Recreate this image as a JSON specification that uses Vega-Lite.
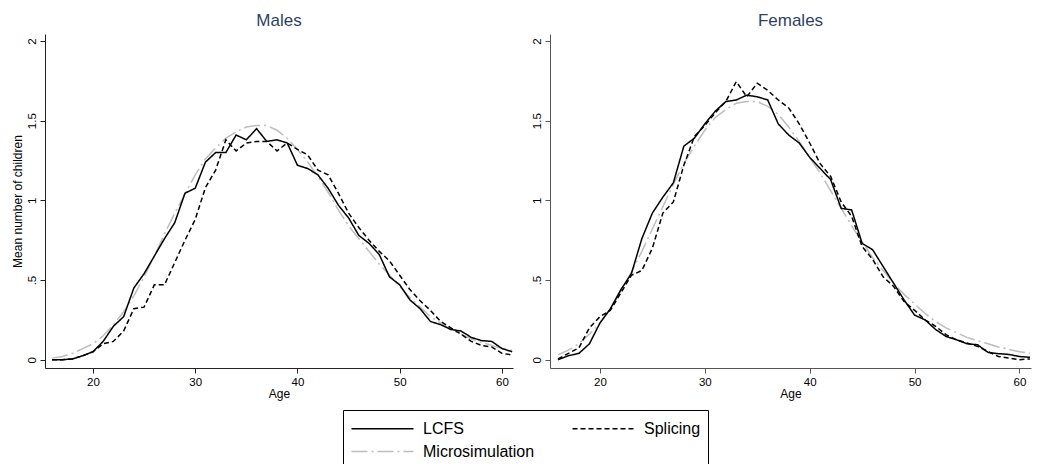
{
"$schema": "https://vega.github.io/schema/vega-lite/v6.json",
"autosize": {"type": "pad"},
"padding": {"left": 11, "top": 12, "right": 0, "bottom": 0},
"background": "white",
"config": {
  "font": "Liberation Sans",
  "view": {"stroke": null},
  "axis": {"grid": false, "labelFont": "Liberation Sans", "labelFontSize": 11.5, "labelColor": "#000", "titleFont": "Liberation Sans", "titleFontWeight": "normal", "titleFontSize": 12, "titleColor": "#000", "domainColor": "#222", "tickColor": "#222", "tickSize": 5, "labelPadding": 3},
  "title": {"font": "Liberation Sans", "fontSize": 17, "fontWeight": "normal", "color": "#2f3f66", "offset": 4},
  "legend": {"labelFont": "Liberation Sans", "labelFontSize": 16, "labelColor": "#000", "symbolType": "M-3,0H3", "symbolSize": 427, "symbolStrokeWidth": 1.5, "symbolOffset": 21, "strokeColor": "#000", "padding": 7, "columns": 2, "direction": "horizontal", "columnPadding": 34, "rowPadding": 3, "labelOffset": 29, "labelLimit": 300}
},
"datasets": {"d": [
{"sex":"Males","series":"Microsimulation","age":16,"value":0.01},{"sex":"Males","series":"Microsimulation","age":17,"value":0.02},{"sex":"Males","series":"Microsimulation","age":18,"value":0.04},{"sex":"Males","series":"Microsimulation","age":19,"value":0.07},{"sex":"Males","series":"Microsimulation","age":20,"value":0.10},{"sex":"Males","series":"Microsimulation","age":21,"value":0.15},{"sex":"Males","series":"Microsimulation","age":22,"value":0.22},{"sex":"Males","series":"Microsimulation","age":23,"value":0.30},{"sex":"Males","series":"Microsimulation","age":24,"value":0.40},{"sex":"Males","series":"Microsimulation","age":25,"value":0.52},{"sex":"Males","series":"Microsimulation","age":26,"value":0.65},{"sex":"Males","series":"Microsimulation","age":27,"value":0.79},{"sex":"Males","series":"Microsimulation","age":28,"value":0.92},{"sex":"Males","series":"Microsimulation","age":29,"value":1.04},{"sex":"Males","series":"Microsimulation","age":30,"value":1.16},{"sex":"Males","series":"Microsimulation","age":31,"value":1.26},{"sex":"Males","series":"Microsimulation","age":32,"value":1.33},{"sex":"Males","series":"Microsimulation","age":33,"value":1.39},{"sex":"Males","series":"Microsimulation","age":34,"value":1.43},{"sex":"Males","series":"Microsimulation","age":35,"value":1.46},{"sex":"Males","series":"Microsimulation","age":36,"value":1.47},{"sex":"Males","series":"Microsimulation","age":37,"value":1.47},{"sex":"Males","series":"Microsimulation","age":38,"value":1.44},{"sex":"Males","series":"Microsimulation","age":39,"value":1.39},{"sex":"Males","series":"Microsimulation","age":40,"value":1.32},{"sex":"Males","series":"Microsimulation","age":41,"value":1.24},{"sex":"Males","series":"Microsimulation","age":42,"value":1.15},{"sex":"Males","series":"Microsimulation","age":43,"value":1.05},{"sex":"Males","series":"Microsimulation","age":44,"value":0.94},{"sex":"Males","series":"Microsimulation","age":45,"value":0.84},{"sex":"Males","series":"Microsimulation","age":46,"value":0.76},{"sex":"Males","series":"Microsimulation","age":47,"value":0.68},{"sex":"Males","series":"Microsimulation","age":48,"value":0.60},{"sex":"Males","series":"Microsimulation","age":49,"value":0.53},{"sex":"Males","series":"Microsimulation","age":50,"value":0.46},{"sex":"Males","series":"Microsimulation","age":51,"value":0.39},{"sex":"Males","series":"Microsimulation","age":52,"value":0.33},{"sex":"Males","series":"Microsimulation","age":53,"value":0.27},{"sex":"Males","series":"Microsimulation","age":54,"value":0.23},{"sex":"Males","series":"Microsimulation","age":55,"value":0.19},{"sex":"Males","series":"Microsimulation","age":56,"value":0.16},{"sex":"Males","series":"Microsimulation","age":57,"value":0.13},{"sex":"Males","series":"Microsimulation","age":58,"value":0.11},{"sex":"Males","series":"Microsimulation","age":59,"value":0.09},{"sex":"Males","series":"Microsimulation","age":60,"value":0.07},{"sex":"Males","series":"Microsimulation","age":61,"value":0.06},
{"sex":"Males","series":"LCFS","age":16,"value":0},{"sex":"Males","series":"LCFS","age":17,"value":0},{"sex":"Males","series":"LCFS","age":18,"value":0.005},{"sex":"Males","series":"LCFS","age":19,"value":0.025},{"sex":"Males","series":"LCFS","age":20,"value":0.05},{"sex":"Males","series":"LCFS","age":21,"value":0.115},{"sex":"Males","series":"LCFS","age":22,"value":0.21},{"sex":"Males","series":"LCFS","age":23,"value":0.27},{"sex":"Males","series":"LCFS","age":24,"value":0.45},{"sex":"Males","series":"LCFS","age":25,"value":0.54},{"sex":"Males","series":"LCFS","age":26,"value":0.65},{"sex":"Males","series":"LCFS","age":27,"value":0.76},{"sex":"Males","series":"LCFS","age":28,"value":0.86},{"sex":"Males","series":"LCFS","age":29,"value":1.045},{"sex":"Males","series":"LCFS","age":30,"value":1.076},{"sex":"Males","series":"LCFS","age":31,"value":1.24},{"sex":"Males","series":"LCFS","age":32,"value":1.30},{"sex":"Males","series":"LCFS","age":33,"value":1.30},{"sex":"Males","series":"LCFS","age":34,"value":1.41},{"sex":"Males","series":"LCFS","age":35,"value":1.38},{"sex":"Males","series":"LCFS","age":36,"value":1.45},{"sex":"Males","series":"LCFS","age":37,"value":1.37},{"sex":"Males","series":"LCFS","age":38,"value":1.38},{"sex":"Males","series":"LCFS","age":39,"value":1.36},{"sex":"Males","series":"LCFS","age":40,"value":1.22},{"sex":"Males","series":"LCFS","age":41,"value":1.20},{"sex":"Males","series":"LCFS","age":42,"value":1.16},{"sex":"Males","series":"LCFS","age":43,"value":1.076},{"sex":"Males","series":"LCFS","age":44,"value":0.97},{"sex":"Males","series":"LCFS","age":45,"value":0.89},{"sex":"Males","series":"LCFS","age":46,"value":0.78},{"sex":"Males","series":"LCFS","age":47,"value":0.73},{"sex":"Males","series":"LCFS","age":48,"value":0.66},{"sex":"Males","series":"LCFS","age":49,"value":0.52},{"sex":"Males","series":"LCFS","age":50,"value":0.47},{"sex":"Males","series":"LCFS","age":51,"value":0.375},{"sex":"Males","series":"LCFS","age":52,"value":0.32},{"sex":"Males","series":"LCFS","age":53,"value":0.24},{"sex":"Males","series":"LCFS","age":54,"value":0.22},{"sex":"Males","series":"LCFS","age":55,"value":0.19},{"sex":"Males","series":"LCFS","age":56,"value":0.18},{"sex":"Males","series":"LCFS","age":57,"value":0.14},{"sex":"Males","series":"LCFS","age":58,"value":0.12},{"sex":"Males","series":"LCFS","age":59,"value":0.115},{"sex":"Males","series":"LCFS","age":60,"value":0.07},{"sex":"Males","series":"LCFS","age":61,"value":0.05},
{"sex":"Males","series":"Splicing","age":16,"value":0},{"sex":"Males","series":"Splicing","age":17,"value":0},{"sex":"Males","series":"Splicing","age":18,"value":0.005},{"sex":"Males","series":"Splicing","age":19,"value":0.025},{"sex":"Males","series":"Splicing","age":20,"value":0.05},{"sex":"Males","series":"Splicing","age":21,"value":0.10},{"sex":"Males","series":"Splicing","age":22,"value":0.115},{"sex":"Males","series":"Splicing","age":23,"value":0.18},{"sex":"Males","series":"Splicing","age":24,"value":0.32},{"sex":"Males","series":"Splicing","age":25,"value":0.33},{"sex":"Males","series":"Splicing","age":26,"value":0.47},{"sex":"Males","series":"Splicing","age":27,"value":0.47},{"sex":"Males","series":"Splicing","age":28,"value":0.61},{"sex":"Males","series":"Splicing","age":29,"value":0.75},{"sex":"Males","series":"Splicing","age":30,"value":0.88},{"sex":"Males","series":"Splicing","age":31,"value":1.08},{"sex":"Males","series":"Splicing","age":32,"value":1.19},{"sex":"Males","series":"Splicing","age":33,"value":1.38},{"sex":"Males","series":"Splicing","age":34,"value":1.31},{"sex":"Males","series":"Splicing","age":35,"value":1.36},{"sex":"Males","series":"Splicing","age":36,"value":1.37},{"sex":"Males","series":"Splicing","age":37,"value":1.37},{"sex":"Males","series":"Splicing","age":38,"value":1.31},{"sex":"Males","series":"Splicing","age":39,"value":1.36},{"sex":"Males","series":"Splicing","age":40,"value":1.32},{"sex":"Males","series":"Splicing","age":41,"value":1.285},{"sex":"Males","series":"Splicing","age":42,"value":1.19},{"sex":"Males","series":"Splicing","age":43,"value":1.16},{"sex":"Males","series":"Splicing","age":44,"value":1.045},{"sex":"Males","series":"Splicing","age":45,"value":0.92},{"sex":"Males","series":"Splicing","age":46,"value":0.83},{"sex":"Males","series":"Splicing","age":47,"value":0.75},{"sex":"Males","series":"Splicing","age":48,"value":0.68},{"sex":"Males","series":"Splicing","age":49,"value":0.62},{"sex":"Males","series":"Splicing","age":50,"value":0.53},{"sex":"Males","series":"Splicing","age":51,"value":0.44},{"sex":"Males","series":"Splicing","age":52,"value":0.37},{"sex":"Males","series":"Splicing","age":53,"value":0.31},{"sex":"Males","series":"Splicing","age":54,"value":0.24},{"sex":"Males","series":"Splicing","age":55,"value":0.20},{"sex":"Males","series":"Splicing","age":56,"value":0.16},{"sex":"Males","series":"Splicing","age":57,"value":0.115},{"sex":"Males","series":"Splicing","age":58,"value":0.09},{"sex":"Males","series":"Splicing","age":59,"value":0.08},{"sex":"Males","series":"Splicing","age":60,"value":0.04},{"sex":"Males","series":"Splicing","age":61,"value":0.03},
{"sex":"Females","series":"Microsimulation","age":16,"value":0.03},{"sex":"Females","series":"Microsimulation","age":17,"value":0.06},{"sex":"Females","series":"Microsimulation","age":18,"value":0.10},{"sex":"Females","series":"Microsimulation","age":19,"value":0.16},{"sex":"Females","series":"Microsimulation","age":20,"value":0.23},{"sex":"Females","series":"Microsimulation","age":21,"value":0.32},{"sex":"Females","series":"Microsimulation","age":22,"value":0.43},{"sex":"Females","series":"Microsimulation","age":23,"value":0.55},{"sex":"Females","series":"Microsimulation","age":24,"value":0.68},{"sex":"Females","series":"Microsimulation","age":25,"value":0.82},{"sex":"Females","series":"Microsimulation","age":26,"value":0.96},{"sex":"Females","series":"Microsimulation","age":27,"value":1.10},{"sex":"Females","series":"Microsimulation","age":28,"value":1.23},{"sex":"Females","series":"Microsimulation","age":29,"value":1.34},{"sex":"Females","series":"Microsimulation","age":30,"value":1.44},{"sex":"Females","series":"Microsimulation","age":31,"value":1.52},{"sex":"Females","series":"Microsimulation","age":32,"value":1.57},{"sex":"Females","series":"Microsimulation","age":33,"value":1.61},{"sex":"Females","series":"Microsimulation","age":34,"value":1.62},{"sex":"Females","series":"Microsimulation","age":35,"value":1.62},{"sex":"Females","series":"Microsimulation","age":36,"value":1.59},{"sex":"Females","series":"Microsimulation","age":37,"value":1.54},{"sex":"Females","series":"Microsimulation","age":38,"value":1.46},{"sex":"Females","series":"Microsimulation","age":39,"value":1.37},{"sex":"Females","series":"Microsimulation","age":40,"value":1.27},{"sex":"Females","series":"Microsimulation","age":41,"value":1.17},{"sex":"Females","series":"Microsimulation","age":42,"value":1.06},{"sex":"Females","series":"Microsimulation","age":43,"value":0.95},{"sex":"Females","series":"Microsimulation","age":44,"value":0.84},{"sex":"Females","series":"Microsimulation","age":45,"value":0.74},{"sex":"Females","series":"Microsimulation","age":46,"value":0.64},{"sex":"Females","series":"Microsimulation","age":47,"value":0.56},{"sex":"Females","series":"Microsimulation","age":48,"value":0.48},{"sex":"Females","series":"Microsimulation","age":49,"value":0.41},{"sex":"Females","series":"Microsimulation","age":50,"value":0.35},{"sex":"Females","series":"Microsimulation","age":51,"value":0.29},{"sex":"Females","series":"Microsimulation","age":52,"value":0.24},{"sex":"Females","series":"Microsimulation","age":53,"value":0.20},{"sex":"Females","series":"Microsimulation","age":54,"value":0.17},{"sex":"Females","series":"Microsimulation","age":55,"value":0.14},{"sex":"Females","series":"Microsimulation","age":56,"value":0.12},{"sex":"Females","series":"Microsimulation","age":57,"value":0.10},{"sex":"Females","series":"Microsimulation","age":58,"value":0.08},{"sex":"Females","series":"Microsimulation","age":59,"value":0.065},{"sex":"Females","series":"Microsimulation","age":60,"value":0.05},{"sex":"Females","series":"Microsimulation","age":61,"value":0.04},
{"sex":"Females","series":"LCFS","age":16,"value":0},{"sex":"Females","series":"LCFS","age":17,"value":0.025},{"sex":"Females","series":"LCFS","age":18,"value":0.04},{"sex":"Females","series":"LCFS","age":19,"value":0.10},{"sex":"Females","series":"LCFS","age":20,"value":0.23},{"sex":"Females","series":"LCFS","age":21,"value":0.32},{"sex":"Females","series":"LCFS","age":22,"value":0.44},{"sex":"Females","series":"LCFS","age":23,"value":0.54},{"sex":"Females","series":"LCFS","age":24,"value":0.76},{"sex":"Females","series":"LCFS","age":25,"value":0.92},{"sex":"Females","series":"LCFS","age":26,"value":1.02},{"sex":"Females","series":"LCFS","age":27,"value":1.11},{"sex":"Females","series":"LCFS","age":28,"value":1.34},{"sex":"Females","series":"LCFS","age":29,"value":1.39},{"sex":"Females","series":"LCFS","age":30,"value":1.48},{"sex":"Females","series":"LCFS","age":31,"value":1.56},{"sex":"Females","series":"LCFS","age":32,"value":1.62},{"sex":"Females","series":"LCFS","age":33,"value":1.63},{"sex":"Females","series":"LCFS","age":34,"value":1.66},{"sex":"Females","series":"LCFS","age":35,"value":1.65},{"sex":"Females","series":"LCFS","age":36,"value":1.63},{"sex":"Females","series":"LCFS","age":37,"value":1.48},{"sex":"Females","series":"LCFS","age":38,"value":1.41},{"sex":"Females","series":"LCFS","age":39,"value":1.36},{"sex":"Females","series":"LCFS","age":40,"value":1.27},{"sex":"Females","series":"LCFS","age":41,"value":1.20},{"sex":"Females","series":"LCFS","age":42,"value":1.13},{"sex":"Females","series":"LCFS","age":43,"value":0.95},{"sex":"Females","series":"LCFS","age":44,"value":0.94},{"sex":"Females","series":"LCFS","age":45,"value":0.73},{"sex":"Females","series":"LCFS","age":46,"value":0.69},{"sex":"Females","series":"LCFS","age":47,"value":0.585},{"sex":"Females","series":"LCFS","age":48,"value":0.48},{"sex":"Females","series":"LCFS","age":49,"value":0.375},{"sex":"Females","series":"LCFS","age":50,"value":0.28},{"sex":"Females","series":"LCFS","age":51,"value":0.25},{"sex":"Females","series":"LCFS","age":52,"value":0.19},{"sex":"Females","series":"LCFS","age":53,"value":0.146},{"sex":"Females","series":"LCFS","age":54,"value":0.125},{"sex":"Females","series":"LCFS","age":55,"value":0.10},{"sex":"Females","series":"LCFS","age":56,"value":0.094},{"sex":"Females","series":"LCFS","age":57,"value":0.046},{"sex":"Females","series":"LCFS","age":58,"value":0.038},{"sex":"Females","series":"LCFS","age":59,"value":0.033},{"sex":"Females","series":"LCFS","age":60,"value":0.02},{"sex":"Females","series":"LCFS","age":61,"value":0.015},
{"sex":"Females","series":"Splicing","age":16,"value":0.005},{"sex":"Females","series":"Splicing","age":17,"value":0.04},{"sex":"Females","series":"Splicing","age":18,"value":0.075},{"sex":"Females","series":"Splicing","age":19,"value":0.20},{"sex":"Females","series":"Splicing","age":20,"value":0.27},{"sex":"Females","series":"Splicing","age":21,"value":0.31},{"sex":"Females","series":"Splicing","age":22,"value":0.42},{"sex":"Females","series":"Splicing","age":23,"value":0.53},{"sex":"Females","series":"Splicing","age":24,"value":0.56},{"sex":"Females","series":"Splicing","age":25,"value":0.70},{"sex":"Females","series":"Splicing","age":26,"value":0.92},{"sex":"Females","series":"Splicing","age":27,"value":0.99},{"sex":"Females","series":"Splicing","age":28,"value":1.22},{"sex":"Females","series":"Splicing","age":29,"value":1.40},{"sex":"Females","series":"Splicing","age":30,"value":1.47},{"sex":"Females","series":"Splicing","age":31,"value":1.55},{"sex":"Females","series":"Splicing","age":32,"value":1.62},{"sex":"Females","series":"Splicing","age":33,"value":1.745},{"sex":"Females","series":"Splicing","age":34,"value":1.65},{"sex":"Females","series":"Splicing","age":35,"value":1.735},{"sex":"Females","series":"Splicing","age":36,"value":1.69},{"sex":"Females","series":"Splicing","age":37,"value":1.63},{"sex":"Females","series":"Splicing","age":38,"value":1.58},{"sex":"Females","series":"Splicing","age":39,"value":1.48},{"sex":"Females","series":"Splicing","age":40,"value":1.36},{"sex":"Females","series":"Splicing","age":41,"value":1.23},{"sex":"Females","series":"Splicing","age":42,"value":1.15},{"sex":"Females","series":"Splicing","age":43,"value":0.99},{"sex":"Females","series":"Splicing","age":44,"value":0.90},{"sex":"Females","series":"Splicing","age":45,"value":0.71},{"sex":"Females","series":"Splicing","age":46,"value":0.63},{"sex":"Females","series":"Splicing","age":47,"value":0.52},{"sex":"Females","series":"Splicing","age":48,"value":0.46},{"sex":"Females","series":"Splicing","age":49,"value":0.365},{"sex":"Females","series":"Splicing","age":50,"value":0.31},{"sex":"Females","series":"Splicing","age":51,"value":0.25},{"sex":"Females","series":"Splicing","age":52,"value":0.21},{"sex":"Females","series":"Splicing","age":53,"value":0.157},{"sex":"Females","series":"Splicing","age":54,"value":0.125},{"sex":"Females","series":"Splicing","age":55,"value":0.105},{"sex":"Females","series":"Splicing","age":56,"value":0.084},{"sex":"Females","series":"Splicing","age":57,"value":0.052},{"sex":"Females","series":"Splicing","age":58,"value":0.02},{"sex":"Females","series":"Splicing","age":59,"value":0.01},{"sex":"Females","series":"Splicing","age":60,"value":0},{"sex":"Females","series":"Splicing","age":61,"value":0.005}
]},
"spacing": 15,
"hconcat": [
  {
    "width": 468, "height": 334,
    "title": "Males",
    "data": {"name": "d"},
    "transform": [{"filter": "datum.sex === 'Males'"}],
    "mark": {"type": "line", "strokeWidth": 1.5},
    "encoding": {
      "x": {"field": "age", "type": "quantitative", "scale": {"domain": [15.31, 61.08], "nice": false, "zero": false}, "axis": {"values": [20, 30, 40, 50, 60], "title": "Age", "titlePadding": 1}},
      "y": {"field": "value", "type": "quantitative", "scale": {"domain": [-0.052, 2.044], "nice": false, "zero": false}, "axis": {"values": [0, 0.5, 1, 1.5, 2], "labelExpr": "datum.value == 0.5 ? '.5' : format(datum.value, '~g')", "labelAngle": -90, "title": "Mean number of children", "titlePadding": 2}},
      "color": {"field": "series", "type": "nominal", "scale": {"domain": ["LCFS", "Splicing", "Microsimulation"], "range": ["#000000", "#000000", "#bdbdbd"]}, "legend": {"title": null, "orient": "none", "direction": "horizontal", "legendX": 298, "legendY": 376}},
      "strokeDash": {"field": "series", "type": "nominal", "scale": {"domain": ["LCFS", "Splicing", "Microsimulation"], "range": [[1, 0], [5, 3], [16, 4, 2, 4]]}, "legend": {"title": null, "orient": "none", "direction": "horizontal", "legendX": 298, "legendY": 376}}
    }
  },
  {
    "width": 481, "height": 334,
    "title": "Females",
    "data": {"name": "d"},
    "transform": [{"filter": "datum.sex === 'Females'"}],
    "mark": {"type": "line", "strokeWidth": 1.5},
    "encoding": {
      "x": {"field": "age", "type": "quantitative", "scale": {"domain": [15.24, 61.1], "nice": false, "zero": false}, "axis": {"values": [20, 30, 40, 50, 60], "title": "Age", "titlePadding": 1, "domainColor": "#555", "tickColor": "#555"}},
      "y": {"field": "value", "type": "quantitative", "scale": {"domain": [-0.052, 2.044], "nice": false, "zero": false}, "axis": {"values": [0, 0.5, 1, 1.5, 2], "labelExpr": "datum.value == 0.5 ? '.5' : format(datum.value, '~g')", "labelAngle": -90, "title": null, "domainColor": "#555", "tickColor": "#555"}},
      "color": {"field": "series", "type": "nominal", "scale": {"domain": ["LCFS", "Splicing", "Microsimulation"], "range": ["#000000", "#000000", "#bdbdbd"]}, "legend": {"title": null, "orient": "none", "direction": "horizontal", "legendX": 298, "legendY": 376}},
      "strokeDash": {"field": "series", "type": "nominal", "scale": {"domain": ["LCFS", "Splicing", "Microsimulation"], "range": [[1, 0], [5, 3], [16, 4, 2, 4]]}, "legend": {"title": null, "orient": "none", "direction": "horizontal", "legendX": 298, "legendY": 376}}
    }
  }
]
}
